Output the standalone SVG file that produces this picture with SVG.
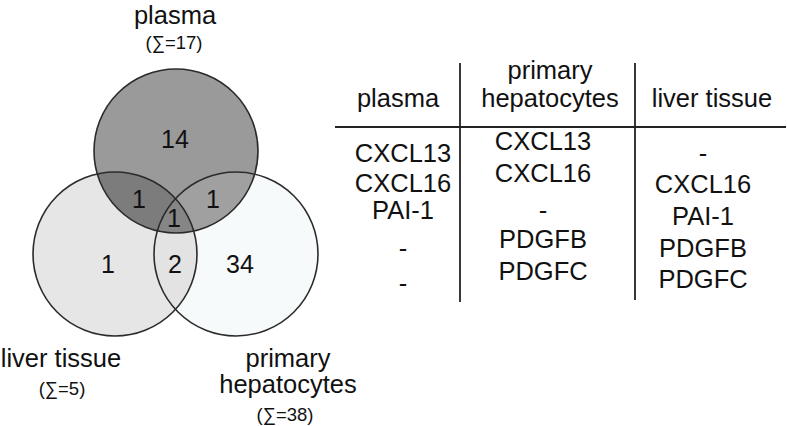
<svg xmlns="http://www.w3.org/2000/svg" width="787" height="426" viewBox="0 0 787 426">
<style>
text{font-family:"Liberation Sans",Arial,sans-serif;fill:#111;text-anchor:middle}
.t{font-size:25.5px}
.n{font-size:25px}
.s{font-size:18.5px}
.ring{fill:none;stroke:#2b2b2b;stroke-width:1.6}
.line{stroke:#222;stroke-width:1.8}
</style>
<defs>
<clipPath id="cP"><circle cx="176" cy="151" r="82"/></clipPath>
<clipPath id="cL"><circle cx="115" cy="254" r="82"/></clipPath>
<clipPath id="cH"><circle cx="236" cy="254" r="82"/></clipPath>
</defs>
<rect width="787" height="426" fill="#fff"/>
<g id="venn">
<circle cx="236" cy="254" r="82" fill="#f7fafa"/>
<circle cx="115" cy="254" r="82" fill="#e6e6e6"/>
<g clip-path="url(#cH)"><circle cx="115" cy="254" r="82" fill="#e3e3e3"/></g>
<circle cx="176" cy="151" r="82" fill="#9a9a9a"/>
<g clip-path="url(#cP)"><circle cx="236" cy="254" r="82" fill="#a0a0a0"/><circle cx="115" cy="254" r="82" fill="#7c7c7c"/></g>
<g clip-path="url(#cP)"><g clip-path="url(#cH)"><circle cx="115" cy="254" r="82" fill="#868686"/></g></g>
</g>
<g id="plasma"><circle class="ring" cx="176" cy="151" r="82"/>
<text class="t" x="175" y="24">plasma</text><text class="s" x="174" y="49">(∑=17)</text></g>
<g id="liver"><circle class="ring" cx="115" cy="254" r="82"/>
<text class="t" x="61" y="367">liver tissue</text><text class="s" x="62" y="395">(∑=5)</text></g>
<g id="hep"><circle class="ring" cx="236" cy="254" r="82"/>
<text class="t" x="288" y="367">primary</text><text class="t" x="288" y="393">hepatocytes</text><text class="s" x="285" y="421">(∑=38)</text></g>
<g id="counts">
<text class="n" x="175" y="148">14</text>
<text class="n" x="139" y="208">1</text>
<text class="n" x="213" y="208">1</text>
<text class="n" x="174" y="227">1</text>
<text class="n" x="108" y="273">1</text>
<text class="n" x="175" y="273">2</text>
<text class="n" x="240" y="273">34</text>
</g>
<g id="table">
<line class="line" x1="460" y1="63" x2="460" y2="302"/>
<line class="line" x1="635" y1="63" x2="635" y2="300"/>
<line class="line" x1="335" y1="127" x2="786" y2="127"/>
<text class="t" x="398" y="107">plasma</text>
<text class="t" x="550" y="79">primary</text>
<text class="t" x="550" y="107">hepatocytes</text>
<text class="t" x="712" y="107">liver tissue</text>
<text class="t" x="403" y="162">CXCL13</text>
<text class="t" x="403" y="192">CXCL16</text>
<text class="t" x="403" y="219">PAI-1</text>
<text class="t" x="403" y="257">-</text>
<text class="t" x="403" y="292">-</text>
<text class="t" x="543" y="150">CXCL13</text>
<text class="t" x="543" y="182">CXCL16</text>
<text class="t" x="543" y="219">-</text>
<text class="t" x="543" y="248">PDGFB</text>
<text class="t" x="543" y="280">PDGFC</text>
<text class="t" x="703" y="162">-</text>
<text class="t" x="703" y="193">CXCL16</text>
<text class="t" x="703" y="225">PAI-1</text>
<text class="t" x="703" y="257">PDGFB</text>
<text class="t" x="703" y="288">PDGFC</text>
</g>
</svg>
